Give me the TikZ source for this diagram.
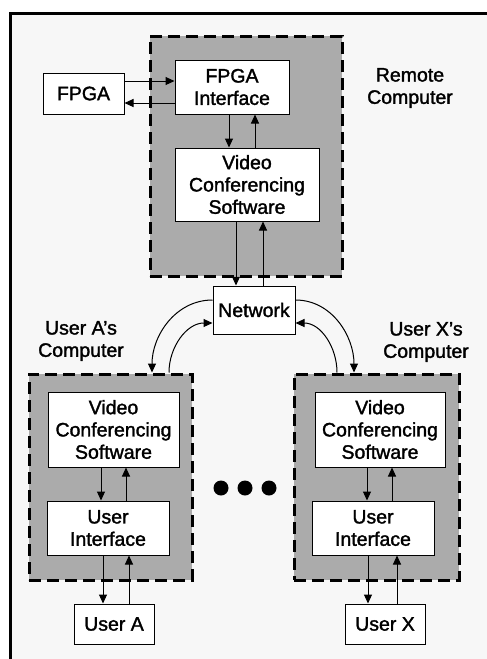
\documentclass[tikz,border=0pt]{standalone}
\usepackage{fontspec}
\setmainfont[FakeBold=1.6]{Liberation Sans}
\usetikzlibrary{arrows.meta}
\definecolor{bg}{HTML}{F7F7F7}
\definecolor{shade}{HTML}{ABABAB}
\begin{document}
\begin{tikzpicture}[x=1pt,y=-1pt,
  txt/.style={font=\fontsize{19.5}{22.3}\selectfont},
  box/.style={txt, draw=black, line width=1pt, fill=white, inner sep=0pt, align=center},
  comp/.style={draw=black, line width=3pt, dash pattern=on 12pt off 6pt, fill=shade, inner sep=0pt},
  arr/.style={line width=1pt, -{Triangle[length=9pt,width=8pt]}},
  lbl/.style={txt, align=center, inner sep=0pt},
  dot/.style={circle, fill=black, minimum size=15pt, inner sep=0pt}]
\useasboundingbox (0,0) rectangle (487,659);
\fill[white] (0,0) rectangle (487,659);
\fill[bg] (10.5,13) rectangle (487,659);
\draw[line width=3pt] (10.5,659) -- (10.5,13) -- (487,13);

% computer groups
\node[comp, minimum width=192pt, minimum height=240pt] (boxR) at (246,156) {};
\node[comp, minimum width=163pt, minimum height=206pt] (boxA) at (110.5,477) {};
\node[comp, minimum width=165pt, minimum height=206pt] (boxX) at (376.5,477) {};

% boxes
\node[box, minimum width=81pt, minimum height=41pt] (fpga) at (83.5,93.5) {FPGA};
\node[box, minimum width=114pt, minimum height=54pt] (fpgai) at (232,87) {FPGA\\Interface};
\node[box, minimum width=144pt, minimum height=73pt] (vcsr) at (247,184.5) {Video\\Conferencing\\Software};
\node[box, minimum width=82pt, minimum height=48pt] (net) at (254,310) {Network};
\node[box, minimum width=131pt, minimum height=75pt] (vcsa) at (113.5,429.5) {Video\\Conferencing\\Software};
\node[box, minimum width=122pt, minimum height=54pt] (uia) at (108,528) {User\\Interface};
\node[box, minimum width=80pt, minimum height=40pt] (usera) at (114,624) {User A};
\node[box, minimum width=130pt, minimum height=75pt] (vcsx) at (380,429.5) {Video\\Conferencing\\Software};
\node[box, minimum width=122pt, minimum height=54pt] (uix) at (373,528) {User\\Interface};
\node[box, minimum width=80pt, minimum height=40pt] (userx) at (385,624) {User X};

% labels
\node[lbl] (remlbl) at (410,88) {Remote\\Computer};
\node[lbl] (alb) at (81,341) {User A’s\\Computer};
\node[lbl] (xlb) at (426,342) {User X’s\\Computer};

% dots
\node[dot] (d1) at (221,488) {};
\node[dot] (d2) at (245,488) {};
\node[dot] (d3) at (269,488) {};

% FPGA <-> interface
\draw[arr] ([yshift=12.5pt]fpga.east) -- ([yshift=12.5pt]fpga.east -| fpgai.west);
\draw[arr] ([yshift=-9.5pt]fpga.east -| fpgai.west) -- ([yshift=-9.5pt]fpga.east);
% interface <-> vcs
\draw[arr] ([xshift=-3pt]fpgai.south) -- ([xshift=-3pt]fpgai.south |- vcsr.north);
\draw[arr] ([xshift=23pt]fpgai.south |- vcsr.north) -- ([xshift=23pt]fpgai.south);
% vcs <-> network
\draw[arr] ([xshift=-18pt]net.north |- vcsr.south) -- ([xshift=-18pt]net.north);
\draw[arr] ([xshift=9pt]net.north) -- ([xshift=9pt]net.north |- vcsr.south);
% network <-> user computers
\draw[arr] ([yshift=10pt]net.west) to[out=180,in=90] ([xshift=41.5pt]boxA.north);
\draw[arr] ([xshift=58.5pt]boxA.north) to[out=90,in=180] ([yshift=-13pt]net.west);
\draw[arr] ([yshift=10pt]net.east) to[out=0,in=90] ([xshift=-22.5pt]boxX.north);
\draw[arr] ([xshift=-39.5pt]boxX.north) to[out=90,in=0] ([yshift=-13pt]net.east);
% user A
\draw[arr] ([xshift=-12.5pt]vcsa.south) -- ([xshift=-12.5pt]vcsa.south |- uia.north);
\draw[arr] ([xshift=12.5pt]vcsa.south |- uia.north) -- ([xshift=12.5pt]vcsa.south);
\draw[arr] ([xshift=-5pt]uia.south) -- ([xshift=-5pt]uia.south |- usera.north);
\draw[arr] ([xshift=21pt]uia.south |- usera.north) -- ([xshift=21pt]uia.south);
% user X
\draw[arr] ([xshift=-13pt]vcsx.south) -- ([xshift=-13pt]vcsx.south |- uix.north);
\draw[arr] ([xshift=12pt]vcsx.south |- uix.north) -- ([xshift=12pt]vcsx.south);
\draw[arr] ([xshift=-5pt]uix.south) -- ([xshift=-5pt]uix.south |- userx.north);
\draw[arr] ([xshift=24pt]uix.south |- userx.north) -- ([xshift=24pt]uix.south);
\end{tikzpicture}
\end{document}
